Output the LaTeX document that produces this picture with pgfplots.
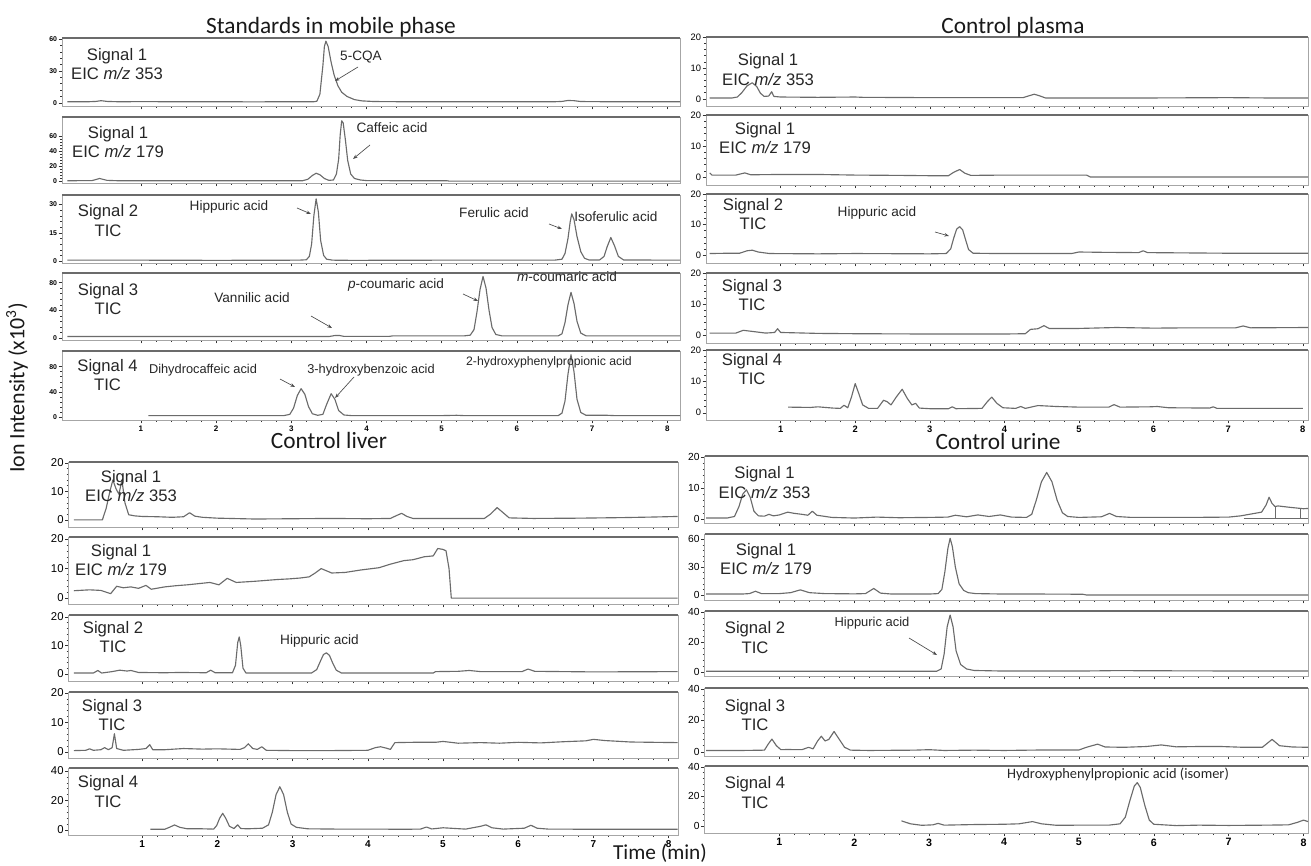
\documentclass[border=0pt]{standalone}
\usepackage{pgfplots}
\pgfplotsset{compat=1.18}
\usepackage{fontspec}
\setmainfont{Liberation Sans}
\newfontfamily\calib{Carlito}
\usetikzlibrary{arrows.meta}

\pgfplotsset{
 chrom/.style={
   scale only axis, anchor=north west,
   axis line style={draw=gray!70, line width=0.7pt},
   tick style={draw=gray!40!black, line width=0.35pt},
   tick align=outside, tick pos=left,
   major tick length=2.5pt, minor tick length=1.5pt,
   xtick={1,2,3,4,5,6,7,8}, minor x tick num=4, minor y tick num=4,
   /pgf/number format/assume math mode=true,
   yticklabel style={inner sep=1pt},
   xticklabel style={inner sep=1.5pt},
   extra description/.code={\draw[draw=black!58, line width=1.5pt] (rel axis cs:0,1) -- (rel axis cs:1,1);},
 },
 trace/.style={line width=0.85pt, color=black!58, mark=none, line join=round},
 notx/.style={xticklabels={}},
 pA/.style={chrom, xmin=-0.05, xmax=8.17, width=463.5pt,
   yticklabel style={font=\fontsize{5.2}{6}\selectfont\bfseries},
   xticklabel style={font=\fontsize{6}{7}\selectfont\bfseries}},
 pB/.style={chrom, xmin=0, xmax=8.07, width=451.5pt,
   yticklabel style={font=\fontsize{7}{8}\selectfont},
   xticklabel style={font=\fontsize{7}{8}\selectfont\bfseries}},
 pC/.style={chrom, xmin=0.02, xmax=8.125, width=457.1pt,
   yticklabel style={font=\fontsize{8.5}{9}\selectfont},
   xticklabel style={font=\fontsize{7.5}{8}\selectfont\bfseries}},
 pD/.style={chrom, xmin=0, xmax=8.06, width=452.6pt,
   yticklabel style={font=\fontsize{7.7}{9}\selectfont},
   xticklabel style={font=\fontsize{8}{9}\selectfont\bfseries}},
}

\tikzset{
 sig/.style={font=\fontsize{12.5}{14.5}\selectfont, align=center, text=black!85},
 ann/.style={font=\fontsize{10.2}{12}\selectfont, text=black!85, inner sep=0pt},
 arr/.style={-{Stealth[length=3.5pt,width=2.6pt]}, draw=black!70, line width=0.5pt},
 ttl/.style={font=\calib\fontsize{17.5}{20}\selectfont, text=black!90},
}

\begin{document}
\begin{tikzpicture}[x=0.75pt,y=-0.75pt]
\path[use as bounding box] (0,0) rectangle (1311,866);

%================ Panel A: Standards in mobile phase ================
\begin{axis}[pA, notx, at={(46.5pt,-28.5pt)}, height=51pt, ymin=-3, ymax=61, ytick={0,30,60}]
\addplot[trace] coordinates {(0.02,1) (0.3,1) (0.4,1.3) (0.47,2) (0.55,1.3) (0.7,1) (1.0,1.1) (1.5,1) (2.0,1) (2.5,0.9) (3.0,1) (3.3,1) (3.34,1.5) (3.38,8) (3.42,35) (3.44,53) (3.46,58) (3.49,53) (3.53,38) (3.57,26) (3.62,16) (3.67,10) (3.74,6) (3.84,3) (3.94,1.8) (4.1,1.2) (4.5,1) (5,1) (5.5,1) (6.0,1) (6.5,1) (6.6,1.3) (6.68,2.2) (6.76,2) (6.85,1.2) (7.2,1) (7.8,1) (8.17,1)};
\end{axis}
\begin{axis}[pA, notx, at={(46.5pt,-87.75pt)}, height=49.5pt, ymin=-2, ymax=86, ytick={0,20,40,60}]
\addplot[trace] coordinates {(0.02,1) (0.35,1.2) (0.45,4) (0.55,1.5) (0.7,1) (1.5,1) (2.5,1) (3.15,1) (3.22,3) (3.28,8) (3.33,11) (3.38,9) (3.44,4) (3.5,1.5) (3.56,2) (3.6,10) (3.63,30) (3.65,62) (3.67,81) (3.69,78) (3.72,55) (3.75,28) (3.79,10) (3.84,4) (3.92,2) (4.0,1.2) (4.5,1) (5.07,1) (5.1,0.5) (6,0.5) (7,0.5) (8.17,0.5)};
\end{axis}
\begin{axis}[pA, notx, at={(46.5pt,-146.25pt)}, height=51pt, ymin=-1, ymax=35, ytick={0,15,30}]
\addplot[trace] coordinates {(0.02,0.5) (1,0.5) (2,0.4) (3.1,0.5) (3.2,0.7) (3.24,2.5) (3.27,9) (3.3,24) (3.33,33) (3.36,26) (3.39,11) (3.43,3) (3.47,1) (3.55,0.5) (3.8,0.4) (5,0.5) (6.5,0.5) (6.6,1) (6.64,4) (6.68,12) (6.71,21) (6.73,25) (6.76,22) (6.8,13) (6.85,5) (6.9,1.5) (6.96,0.6) (7.1,0.6) (7.16,2.5) (7.2,7.5) (7.25,12.5) (7.3,8) (7.35,2.5) (7.42,0.6) (8.17,0.5)};
\end{axis}
\begin{axis}[pA, notx, at={(46.5pt,-204.75pt)}, height=50.25pt, ymin=-3, ymax=94, ytick={0,40,80}]
\addplot[trace] coordinates {(0.02,2) (1,2) (2,2) (3,2) (3.5,2) (3.58,3.5) (3.64,3.5) (3.7,2.2) (4.3,2.2) (4.35,3) (5.3,3) (5.38,4) (5.43,12) (5.47,38) (5.51,70) (5.55,89) (5.59,72) (5.63,40) (5.67,15) (5.72,5) (5.8,3) (6.55,3) (6.6,6) (6.64,22) (6.68,48) (6.72,66) (6.76,50) (6.8,24) (6.85,7) (6.92,3) (8.17,3)};
\end{axis}
\begin{axis}[pA, at={(46.5pt,-263.25pt)}, height=51.75pt, ymin=-5, ymax=105, ytick={0,40,80}]
\addplot[trace] coordinates {(1.1,2) (2,2) (2.9,2) (2.98,4) (3.03,14) (3.08,34) (3.13,45) (3.18,36) (3.23,16) (3.28,5) (3.35,2.5) (3.42,4) (3.47,20) (3.53,37) (3.58,28) (3.63,10) (3.7,3) (3.8,2) (4.5,2) (5,2) (5.2,2.5) (5.3,2) (6.55,2) (6.6,6) (6.64,25) (6.68,68) (6.72,99) (6.76,72) (6.8,28) (6.85,7) (6.92,2.5) (7.2,2.5) (7.3,2) (8.17,2)};
\end{axis}

%================ Panel B: Control plasma ================
\begin{axis}[pB, notx, at={(529.5pt,-27.75pt)}, height=51.75pt, ymin=-2.3, ymax=20, ytick={0,10,20}]
\addplot[trace] coordinates {(0.05,0.3) (0.35,0.3) (0.42,0.6) (0.48,2) (0.55,4.2) (0.62,5.2) (0.68,4) (0.73,1.8) (0.78,0.8) (0.84,0.9) (0.88,2.3) (0.91,0.8) (1.0,0.6) (1.5,0.5) (2.0,0.6) (2.1,0.5) (3.0,0.4) (4.0,0.4) (4.25,0.4) (4.33,1) (4.4,1.5) (4.47,1) (4.55,0.3) (5.0,0.3) (6.0,0.3) (7.0,0.4) (7.5,0.3) (8.07,0.3)};
\end{axis}
\begin{axis}[pB, notx, at={(529.5pt,-86.25pt)}, height=52.5pt, ymin=-2.6, ymax=20, ytick={0,10,20}]
\addplot[trace] coordinates {(0.05,1.3) (0.08,0.6) (0.4,0.6) (0.52,1.3) (0.6,0.7) (1.0,0.8) (1.5,0.8) (2.0,0.6) (2.6,0.5) (3.0,0.4) (3.25,0.4) (3.32,1.5) (3.4,2.4) (3.47,1.2) (3.55,0.5) (4.0,0.6) (4.5,0.6) (5.1,0.6) (5.15,0) (6,0) (7,0) (8.07,0)};
\end{axis}
\begin{axis}[pB, notx, at={(529.5pt,-145.5pt)}, height=51.75pt, ymin=-2.6, ymax=20, ytick={0,10,20}]
\addplot[trace] coordinates {(0.05,0.5) (0.3,0.6) (0.45,0.6) (0.55,1.4) (0.62,1.6) (0.7,1) (0.85,0.5) (1.5,0.4) (2,0.5) (3.0,0.4) (3.22,0.5) (3.28,2) (3.32,5.5) (3.36,8.5) (3.4,9.3) (3.44,8.3) (3.48,5) (3.52,1.8) (3.58,0.6) (3.9,0.5) (4.9,0.5) (5.0,1) (5.3,0.9) (5.8,0.8) (5.86,1.4) (5.92,0.8) (7,0.6) (8.07,0.6)};
\end{axis}
\begin{axis}[pB, notx, at={(529.5pt,-204.75pt)}, height=52.5pt, ymin=-2.6, ymax=20, ytick={0,10,20}]
\addplot[trace] coordinates {(0.05,0.6) (0.4,0.6) (0.5,1.5) (0.6,1.2) (0.8,0.6) (0.92,0.8) (0.96,2) (1.0,0.8) (1.5,0.5) (2,0.4) (3,0.3) (4.0,0.3) (4.28,0.4) (4.35,1.8) (4.45,2) (4.53,3) (4.6,2.1) (5.0,2.1) (5.5,2.4) (6,2.2) (6.5,2.3) (7.1,2.3) (7.2,2.9) (7.3,2.3) (8.07,2.4)};
\end{axis}
\begin{axis}[pB, at={(529.5pt,-262.5pt)}, height=52.5pt, ymin=-2.3, ymax=20, ytick={0,10,20}]
\addplot[trace] coordinates {(1.1,1.8) (1.4,1.7) (1.5,1.9) (1.7,1.5) (1.8,1.4) (1.85,2.4) (1.9,1.6) (1.95,5) (2.0,9.3) (2.05,6) (2.1,2.5) (2.18,1.4) (2.3,1.4) (2.38,4) (2.43,3.5) (2.48,2.5) (2.55,5) (2.63,7.5) (2.7,4.5) (2.76,2.5) (2.81,3) (2.86,1.5) (3.0,1.3) (3.25,1.3) (3.3,1.9) (3.35,1.3) (3.7,1.4) (3.77,3.5) (3.83,5) (3.9,3) (3.98,1.6) (4.15,1.4) (4.22,2) (4.28,1.4) (4.45,2.3) (4.7,2) (5.0,1.8) (5.4,1.8) (5.47,2.6) (5.55,1.8) (5.95,1.9) (6.05,2) (6.2,1.6) (6.75,1.5) (6.8,1.9) (6.85,1.4) (7.5,1.4) (8.0,1.4)};
\end{axis}

%================ Panel C: Control liver ================
\begin{axis}[pC, notx, at={(51.4pt,-346.5pt)}, height=48.75pt, ymin=-2.5, ymax=20.3, ytick={0,10,20}]
\addplot[trace] coordinates {(0.09,0) (0.3,0) (0.47,0) (0.52,4) (0.57,10) (0.61,14) (0.65,11) (0.69,9) (0.73,14) (0.77,6) (0.82,1.8) (0.9,1.4) (1.0,1.2) (1.2,1.1) (1.4,0.9) (1.55,1.1) (1.63,2.5) (1.7,1.3) (1.8,0.9) (2.0,0.6) (2.5,0.3) (3.0,0.4) (3.5,0.5) (4.0,0.4) (4.3,0.5) (4.38,1.5) (4.45,2.3) (4.52,1.2) (4.6,0.5) (5.0,0.5) (5.55,0.5) (5.63,2) (5.72,4.3) (5.8,2.5) (5.88,0.7) (6.2,0.5) (6.8,0.6) (7.4,0.8) (7.8,1) (8.12,1.2)};
\end{axis}
\begin{axis}[pC, notx, at={(51.4pt,-402.75pt)}, height=50.25pt, ymin=-2, ymax=20.7, ytick={0,10,20}]
\addplot[trace] coordinates {(0.09,2.5) (0.3,2.8) (0.45,2.6) (0.58,1.5) (0.66,4) (0.75,3.5) (0.85,3.8) (0.95,3.3) (1.05,4.3) (1.12,3) (1.3,3.8) (1.45,4.2) (1.6,4.5) (1.75,4.9) (1.9,5.3) (2.02,4.5) (2.13,6.7) (2.25,5.3) (2.5,5.7) (2.65,6.0) (2.8,6.3) (2.95,6.5) (3.1,6.8) (3.22,7.2) (3.3,8.5) (3.38,10) (3.52,8.5) (3.7,8.7) (3.9,9.5) (4.15,10.3) (4.3,11.5) (4.48,12.7) (4.6,13) (4.75,14) (4.87,14.3) (4.93,16.8) (5.0,16.5) (5.04,16) (5.08,10) (5.11,0) (6,0) (7,0) (8.12,0)};
\end{axis}
\begin{axis}[pC, notx, at={(51.4pt,-461.25pt)}, height=49.5pt, ymin=-2.5, ymax=20.7, ytick={0,10,20}]
\addplot[trace] coordinates {(0.09,0.3) (0.35,0.3) (0.41,1.2) (0.46,0.3) (0.6,0.8) (0.7,1.3) (0.8,1.0) (0.85,1.2) (0.95,0.5) (1.3,0.4) (1.5,0.5) (1.85,0.4) (1.91,1.3) (1.97,0.4) (2.2,0.4) (2.24,3) (2.27,11) (2.29,13) (2.31,10) (2.34,2) (2.38,0.3) (3.25,0.3) (3.32,1.5) (3.37,4.5) (3.41,6.8) (3.45,7.4) (3.49,6.5) (3.53,4) (3.58,1.3) (3.65,0.3) (4.5,0.3) (4.87,0.3) (4.9,0.8) (5.2,0.9) (5.35,1.2) (5.5,0.8) (6.05,0.8) (6.13,1.7) (6.22,0.9) (7,0.7) (8.12,0.8)};
\end{axis}
\begin{axis}[pC, notx, at={(51.4pt,-519pt)}, height=49.5pt, ymin=-2, ymax=20.3, ytick={0,10,20}]
\addplot[trace] coordinates {(0.09,0.5) (0.25,0.6) (0.3,1.1) (0.35,0.6) (0.45,0.8) (0.5,1.5) (0.55,0.8) (0.6,1.5) (0.63,6.2) (0.66,1.2) (0.75,0.6) (0.95,0.9) (1.05,1.2) (1.1,2.5) (1.14,0.8) (1.3,0.8) (1.55,1.2) (1.8,1.0) (2.0,1.1) (2.3,0.9) (2.36,1.5) (2.41,2.8) (2.47,1.2) (2.53,0.9) (2.59,1.8) (2.65,0.6) (3.0,0.5) (3.5,0.5) (4.0,0.6) (4.1,1.5) (4.17,1.8) (4.25,1.3) (4.3,0.9) (4.36,3.2) (4.6,3.3) (4.9,3.3) (5.0,3.6) (5.2,3.0) (5.5,3.2) (5.75,3.0) (6.0,3.3) (6.3,3.1) (6.6,3.5) (6.9,3.8) (7.0,4.3) (7.15,3.9) (7.5,3.4) (7.8,3.3) (8.12,3.2)};
\end{axis}
\begin{axis}[pC, at={(51.4pt,-576pt)}, height=50.25pt, ymin=-3.4, ymax=42, ytick={0,20,40}]
\addplot[trace] coordinates {(1.11,0.5) (1.3,0.5) (1.37,2) (1.43,3.4) (1.5,1.8) (1.6,0.8) (1.8,0.8) (1.95,0.6) (1.99,3) (2.03,8) (2.07,11.3) (2.11,8) (2.16,2.5) (2.22,1) (2.27,3.5) (2.31,1) (2.4,0.8) (2.5,1) (2.6,1.2) (2.68,3.5) (2.73,12) (2.78,24) (2.83,29.3) (2.88,24) (2.93,12) (2.98,4) (3.05,1.8) (3.2,0.8) (3.6,0.6) (4.0,0.6) (4.5,0.5) (4.7,0.6) (4.78,2) (4.85,0.7) (5.0,1.5) (5.1,1.2) (5.3,0.6) (5.5,2.5) (5.57,3.5) (5.65,1.5) (5.8,0.6) (6.08,1.2) (6.17,3.2) (6.25,1.2) (6.4,0.6) (7,0.5) (8.12,0.5)};
\end{axis}

%================ Panel D: Control urine ================
\begin{axis}[pD, notx, at={(528.4pt,-342pt)}, height=50.25pt, ymin=-1.3, ymax=20.3, ytick={0,10,20}]
\addplot[trace] coordinates {(0.02,0.3) (0.3,0.3) (0.4,0.8) (0.46,4) (0.51,8) (0.56,9.4) (0.61,7) (0.66,2.5) (0.72,1) (0.8,0.9) (0.86,1.5) (0.92,1.0) (1.0,1.3) (1.11,2.2) (1.2,1.8) (1.3,1.5) (1.38,1.2) (1.44,2.5) (1.5,1.2) (1.7,0.5) (2.0,0.3) (2.3,0.6) (2.6,0.4) (3.0,0.5) (3.25,0.6) (3.35,1.2) (3.5,0.7) (3.65,1.3) (3.8,0.8) (3.95,1.3) (4.1,0.6) (4.3,0.5) (4.37,1.5) (4.43,6) (4.5,12) (4.57,15) (4.64,12) (4.71,6) (4.78,2) (4.85,0.8) (5.0,0.5) (5.3,0.7) (5.41,1.8) (5.5,0.8) (5.7,0.5) (6.5,0.5) (7.0,0.6) (7.16,1) (7.3,1.6) (7.44,2.2) (7.5,4.5) (7.54,7) (7.58,5) (7.62,4) (7.66,4.2) (7.8,3.8) (8.0,3.3) (8.06,3.4)};
\addplot[trace, line width=0.5pt] coordinates {(7.2,0.3) (7.62,0.3) (7.62,4) (7.62,0.3) (7.96,0.3) (7.96,3.4) (7.96,0.3) (8.06,0.3)};
\end{axis}
\begin{axis}[pD, notx, at={(528.4pt,-400.5pt)}, height=49.5pt, ymin=-5.4, ymax=65.6, ytick={0,30,60}]
\addplot[trace] coordinates {(0.02,1) (0.5,1) (0.6,1.5) (0.68,4) (0.76,1.5) (1.0,1.5) (1.15,2.5) (1.28,5.5) (1.4,2.5) (1.6,1.5) (2.0,1.2) (2.15,1.5) (2.26,7) (2.35,2) (2.5,1) (3.0,1) (3.12,1.5) (3.17,6) (3.21,25) (3.25,50) (3.28,61) (3.31,52) (3.35,30) (3.4,12) (3.46,5) (3.52,2.5) (3.62,1.5) (4.0,1) (4.5,1) (5.05,0.8) (5.1,0) (6,0) (7,0) (8.06,0)};
\end{axis}
\begin{axis}[pD, notx, at={(528.4pt,-458.25pt)}, height=48.75pt, ymin=-2.7, ymax=40.7, ytick={0,20,40}]
\addplot[trace] coordinates {(0.02,0.5) (1,0.5) (2,0.5) (3.1,0.5) (3.16,2) (3.2,12) (3.24,30) (3.28,38) (3.32,30) (3.36,14) (3.42,5) (3.5,2) (3.6,1) (4.0,0.6) (5,0.6) (5.5,0.9) (6.0,0.8) (7.4,0.6) (8.06,0.6)};
\end{axis}
\begin{axis}[pD, notx, at={(528.4pt,-516pt)}, height=51pt, ymin=-2.5, ymax=40.5, ytick={0,20,40}]
\addplot[trace] coordinates {(0.02,1) (0.5,1) (0.8,1.2) (0.85,5) (0.9,8.2) (0.96,4) (1.02,1.5) (1.1,1.6) (1.3,1.5) (1.39,3) (1.45,2) (1.51,7) (1.56,10) (1.61,7) (1.66,8) (1.73,13) (1.8,8) (1.87,3) (1.95,1.2) (2.2,1) (2.8,1.2) (3.0,1.5) (3.2,1) (3.6,1.2) (4.0,1) (4.5,1.3) (5.0,1.3) (5.1,3) (5.25,5) (5.35,3.2) (5.6,3) (5.9,3.5) (6.1,4.5) (6.3,3.3) (6.6,3.5) (6.9,3.5) (7.2,3) (7.45,3) (7.58,8) (7.68,4) (7.85,3.2) (8.06,3)};
\end{axis}
\begin{axis}[pD, at={(528.4pt,-574.5pt)}, height=50.25pt, ymin=-4.7, ymax=40.5, ytick={0,20,40}]
\addplot[trace] coordinates {(2.63,3.5) (2.75,1.5) (2.9,0.5) (3.05,0.8) (3.12,1.8) (3.2,0.6) (3.6,1) (4.0,1.2) (4.2,1.5) (4.38,3) (4.5,1.5) (4.7,0.5) (5.0,0.6) (5.4,0.6) (5.55,1.5) (5.62,6) (5.68,17) (5.74,27) (5.78,29.3) (5.82,26) (5.88,14) (5.94,4) (6.0,1.2) (6.3,0.3) (6.6,0.6) (7.0,0.4) (7.5,0.6) (7.8,0.8) (7.92,2.5) (8.0,4) (8.06,3)};
\end{axis}

%================ Titles and axis labels ================
\node[ttl] at (331,27) {Standards in mobile phase};
\node[ttl] at (1013,27) {Control plasma};
\node[ttl] at (329,440) {Control liver};
\node[ttl] at (998,441) {Control urine};
\node[font=\calib\fontsize{16.5}{18}\selectfont, rotate=90, text=black!90] at (17,388) {Ion Intensity (x10\textsuperscript{3})};
\node[font=\calib\fontsize{16}{18}\selectfont, text=black!90] at (660,853) {Time (min)};

%================ Signal labels ================
\node[sig] at (117,64) {Signal 1\\EIC \textit{m/z} 353};
\node[sig] at (118,142) {Signal 1\\EIC \textit{m/z} 179};
\node[sig] at (108,220.5) {Signal 2\\TIC};
\node[sig] at (108,299) {Signal 3\\TIC};
\node[sig] at (107.5,375) {Signal 4\\TIC};

\node[sig] at (768,69.5) {Signal 1\\EIC \textit{m/z} 353};
\node[sig] at (765,138) {Signal 1\\EIC \textit{m/z} 179};
\node[sig] at (753,214) {Signal 2\\TIC};
\node[sig] at (752,295) {Signal 3\\TIC};
\node[sig] at (752,369) {Signal 4\\TIC};

\node[sig] at (131,486) {Signal 1\\EIC \textit{m/z} 353};
\node[sig] at (121,560) {Signal 1\\EIC \textit{m/z} 179};
\node[sig] at (113,637) {Signal 2\\TIC};
\node[sig] at (112,715) {Signal 3\\TIC};
\node[sig] at (108,791.5) {Signal 4\\TIC};

\node[sig] at (764.5,482.5) {Signal 1\\EIC \textit{m/z} 353};
\node[sig] at (766,559) {Signal 1\\EIC \textit{m/z} 179};
\node[sig] at (755,637.5) {Signal 2\\TIC};
\node[sig] at (755,715) {Signal 3\\TIC};
\node[sig] at (755,792.5) {Signal 4\\TIC};

%================ Compound annotations ================
\node[ann] at (361,57) {5-CQA};
\draw[arr] (358,67) -- (335,81);
\node[ann] at (392,128) {Caffeic acid};
\draw[arr] (370,145) -- (353,159);
\node[ann] at (229,207) {Hippuric acid};
\draw[arr] (297,208) -- (311,214);
\node[ann] at (494,213) {Ferulic acid};
\draw[arr] (549,224) -- (562,229);
\node[ann, anchor=west] at (574,217) {Isoferulic acid};
\node[ann] at (252,298) {Vannilic acid};
\draw[arr] (311,316) -- (332,328);
\node[ann] at (396,285) {\textit{p}-coumaric acid};
\draw[arr] (463,294) -- (478,301);
\node[ann] at (567,277) {\textit{m}-coumaric acid};
\node[ann, font=\fontsize{9.6}{11}\selectfont] at (203,370) {Dihydrocaffeic acid};
\draw[arr] (280,379) -- (295,387);
\node[ann, font=\fontsize{9.6}{11}\selectfont] at (371,370) {3-hydroxybenzoic acid};
\draw[arr] (354,377) -- (335,398);
\node[ann, font=\fontsize{9.2}{11}\selectfont] at (549,362) {2-hydroxyphenylpropionic acid};

\node[ann] at (877,213) {Hippuric acid};
\draw[arr] (935,232) -- (949,236);

\node[ann] at (319.5,641) {Hippuric acid};

\node[ann, font=\fontsize{9.7}{11}\selectfont] at (872,623) {Hippuric acid};
\draw[arr] (909,638) -- (937,655);
\node[ann, font=\calib\fontsize{10.8}{12}\selectfont] at (1118,774) {Hydroxyphenylpropionic acid (isomer)};

\end{tikzpicture}
\end{document}
